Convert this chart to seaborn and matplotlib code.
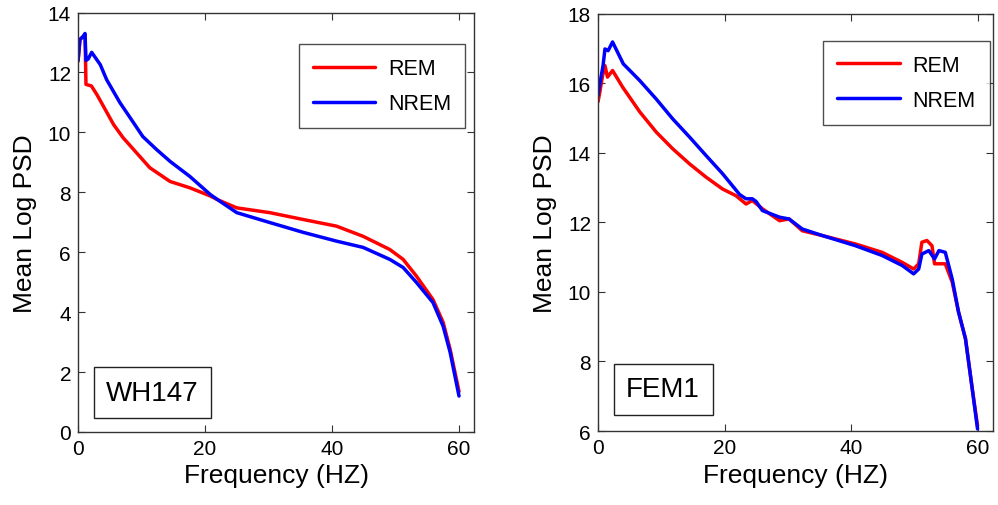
import matplotlib
matplotlib.use("Agg")
import matplotlib.pyplot as plt
import seaborn as sns
import pandas as pd

# ---- data: WH147 ----
wh_rem_x = [0, 0.3, 0.8, 1.1, 1.25, 2.1, 3.0, 4.0, 5.6, 7.1, 9.2, 11.3, 14.5, 17.6,
            20.8, 22.0, 25, 30.2, 35.5, 40.7, 44.9, 49.1, 51.2, 53.3, 55.9, 57.5, 58.6, 60]
wh_rem_y = [12.37, 13.1, 13.2, 13.25, 11.6, 11.55, 11.25, 10.87, 10.26, 9.82, 9.32, 8.82, 8.36, 8.15,
            7.88, 7.75, 7.48, 7.32, 7.09, 6.87, 6.53, 6.09, 5.76, 5.2, 4.42, 3.66, 2.76, 1.35]
wh_nrem_x = [0, 0.3, 0.8, 1.1, 1.25, 1.6, 2.15, 3.5, 4.5, 6.6, 8.2, 10.2, 12.4, 14.5, 17.6,
             20.8, 22.0, 25, 30.2, 35.5, 40.7, 44.9, 49.1, 51.2, 53.3, 55.9, 57.5, 58.6, 60]
wh_nrem_y = [12.4, 13.1, 13.2, 13.3, 12.4, 12.45, 12.67, 12.26, 11.76, 10.99, 10.49, 9.86, 9.42, 9.03, 8.53,
             7.93, 7.75, 7.32, 6.99, 6.66, 6.37, 6.16, 5.76, 5.49, 4.99, 4.32, 3.53, 2.66, 1.2]

# ---- data: FEM1 ----
fem_rem_x = [0, 0.3, 0.7, 1.1, 1.5, 2.3, 3.9, 6.6, 9.2, 11.8, 14.5, 17.1, 19.7, 21.8, 23.4, 24.4,
             26, 28.7, 30.2, 32.3, 35.5, 40.7, 44.9, 48.1, 49.9, 50.7, 51.2, 52.0, 52.8, 53.2,
             54.9, 56, 57, 58.1, 59.1, 60]
fem_rem_y = [15.47, 15.76, 16.2, 16.51, 16.18, 16.37, 15.89, 15.18, 14.6, 14.12, 13.68, 13.3, 12.96, 12.77, 12.53, 12.63,
             12.39, 12.05, 12.1, 11.76, 11.62, 11.38, 11.14, 10.85, 10.66, 10.81, 11.43, 11.48, 11.33, 10.81,
             10.81, 10.28, 9.42, 8.65, 7.3, 6.15]
fem_nrem_x = [0, 0.3, 0.8, 1.1, 1.6, 2.3, 4, 6.6, 9.2, 11.8, 14.5, 17.1, 19.7, 22.4, 23.4, 24.4, 25,
              26, 28.7, 30.2, 32.3, 35.5, 40.7, 44.9, 48.1, 49.9, 50.7, 51.2, 52.3, 53.2, 53.9,
              54.9, 56, 57, 58.1, 59.1, 60]
fem_nrem_y = [15.65, 16.0, 16.51, 16.99, 16.94, 17.19, 16.56, 16.08, 15.55, 14.98, 14.45, 13.92, 13.4, 12.8, 12.68, 12.68, 12.6,
              12.34, 12.15, 12.1, 11.81, 11.62, 11.33, 11.05, 10.76, 10.52, 10.66, 11.09, 11.19, 10.95, 11.19,
              11.14, 10.37, 9.42, 8.65, 7.3, 6.06]

conditions = ["REM", "NREM"]
colors = {"REM": "#ff0000", "NREM": "#0000ff"}
panel_names = ["WH147", "FEM1"]
x_ticks = [0, 20, 40, 60]
wh_yticks = [0, 2, 4, 6, 8, 10, 12, 14]
fem_yticks = [6, 8, 10, 12, 14, 16, 18]

sns.set_style("white")
plt.rcParams["font.family"] = ["Liberation Sans", "DejaVu Sans"]
plt.rcParams["text.color"] = "black"
plt.rcParams["axes.labelcolor"] = "black"

fig = plt.figure(figsize=(9.98, 5.06), dpi=100)
ax1 = fig.add_axes([0.0782, 0.1443, 0.397, 0.829])
ax2 = fig.add_axes([0.5992, 0.1462, 0.3955, 0.8245])

panels = [
    (ax1, {"REM": (wh_rem_x, wh_rem_y), "NREM": (wh_nrem_x, wh_nrem_y)}, wh_yticks,
     panel_names[0], (0.977, 0.924), (0.188, 0.093)),
    (ax2, {"REM": (fem_rem_x, fem_rem_y), "NREM": (fem_nrem_x, fem_nrem_y)}, fem_yticks,
     panel_names[1], (0.992, 0.935), (0.165, 0.10)),
]

for ax, series, yt, name, leg_anchor, txt_pos in panels:
    for c in conditions:
        xs, ys = series[c]
        df = pd.DataFrame({"freq": xs, "psd": ys})
        sns.lineplot(data=df, x="freq", y="psd", color=colors[c],
                     sort=False, estimator=None, lw=2.5, label=c, ax=ax)
    ax.set_xlim(0, 62.4)
    ax.set_ylim(yt[0], yt[-1])
    ax.set_xticks(x_ticks)
    ax.set_yticks(yt)
    ax.tick_params(axis="both", direction="in", length=5, width=0.8, color="#333333",
                   labelsize=15, top=True, right=True, bottom=True, left=True,
                   labelcolor="black", pad=5)
    for s in ax.spines.values():
        s.set_visible(True)
        s.set_color("#333333")
        s.set_linewidth(1.0)
    ax.set_xlabel("Frequency (HZ)", fontsize=19, labelpad=4, color="black")
    ax.set_ylabel("Mean Log PSD", fontsize=19, labelpad=8, color="black")
    leg = ax.legend(loc="upper right", bbox_to_anchor=leg_anchor, fontsize=15.5,
                    frameon=True, fancybox=False, handlelength=2.9, borderpad=0.65,
                    labelspacing=0.65, handletextpad=0.6, borderaxespad=0)
    for t in leg.get_texts():
        t.set_color("black")
    leg.get_frame().set_edgecolor("#222222")
    leg.get_frame().set_linewidth(1.0)
    ax.text(txt_pos[0], txt_pos[1], name, transform=ax.transAxes, fontsize=20,
            ha="center", va="center", color="black",
            bbox=dict(boxstyle="square,pad=0.45", fc="white", ec="#222222", lw=1.0))

fig.savefig("out.png", dpi=100)
